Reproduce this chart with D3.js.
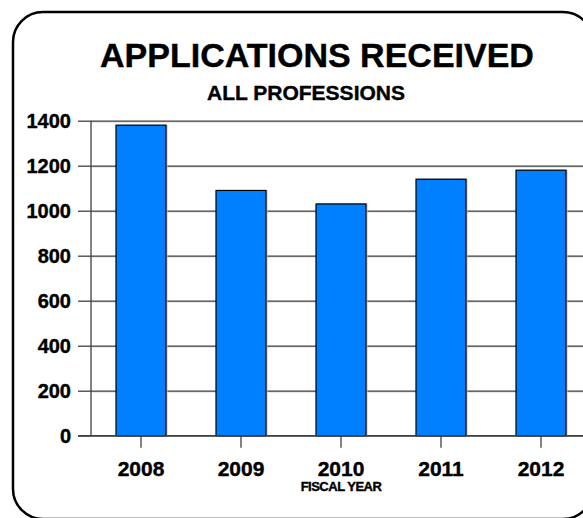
<!DOCTYPE html>
<html>
<head>
<meta charset="utf-8">
<script src="https://cdn.jsdelivr.net/npm/d3@7"></script>
<style>
  body { margin: 0; background: #fff; }
  svg text { font-family: "Liberation Sans", Arial, sans-serif; font-weight: bold; fill: #000; stroke: #000; stroke-width: 0.4px; }
</style>
</head>
<body>
<div id="chart"></div>
<script>
const years = ["2008", "2009", "2010", "2011", "2012"];
const applications = [1380, 1090, 1030, 1140, 1180];
const yTicks = [0, 200, 400, 600, 800, 1000, 1200, 1400];

const width = 583, height = 518;
const plotLeft = 91, plotRight = 591, plotTop = 120.7, plotBottom = 435.7;

const svg = d3.select("#chart").append("svg")
    .attr("width", width)
    .attr("height", height);

// rounded frame
svg.append("rect")
    .attr("x", 13).attr("y", 12)
    .attr("width", 580).attr("height", 507)
    .attr("rx", 30).attr("ry", 30)
    .attr("fill", "none")
    .attr("stroke", "#000")
    .attr("stroke-width", 2.5);

svg.append("text")
    .attr("x", 317).attr("y", 67)
    .attr("text-anchor", "middle")
    .style("font-size", "34px")
    .text("APPLICATIONS RECEIVED");

svg.append("text")
    .attr("x", 306).attr("y", 100)
    .attr("text-anchor", "middle")
    .style("font-size", "21px")
    .text("ALL PROFESSIONS");

const x = d3.scaleBand()
    .domain(years)
    .range([plotLeft, plotRight])
    .paddingInner(0.5)
    .paddingOuter(0.25);

const y = d3.scaleLinear()
    .domain([0, 1400])
    .range([plotBottom, plotTop]);

// gridline shadows
svg.append("g").selectAll("line")
    .data(yTicks.filter(d => d > 0))
    .join("line")
    .attr("x1", plotLeft).attr("x2", plotRight)
    .attr("y1", d => y(d) + 1.2).attr("y2", d => y(d) + 1.2)
    .attr("stroke", "#c8c8c8")
    .attr("stroke-width", 1);

// gridlines
const grid = svg.append("g")
    .attr("transform", `translate(${plotLeft},0)`)
    .call(d3.axisLeft(y).tickValues(yTicks).tickSize(-(plotRight - plotLeft)).tickFormat(""));
grid.select(".domain").remove();
grid.selectAll("line").attr("stroke", "#404040").attr("stroke-width", 1.3);

// y axis
const yAxis = svg.append("g")
    .attr("transform", `translate(${plotLeft},0)`)
    .call(d3.axisLeft(y).tickValues(yTicks).tickSize(13).tickPadding(7).tickFormat(d3.format("d")));
yAxis.select(".domain").remove();
yAxis.selectAll("line").attr("stroke", "#404040").attr("stroke-width", 1.3);
yAxis.selectAll("text")
    .style("font-size", "20px")
    .attr("dy", "0.36em");

svg.append("line")
    .attr("x1", plotLeft).attr("x2", plotLeft)
    .attr("y1", y(1400)).attr("y2", y(0))
    .attr("stroke", "#404040")
    .attr("stroke-width", 1.3);

// bar shadows
svg.append("g").selectAll("rect")
    .data(applications)
    .join("rect")
    .attr("x", (d, i) => x(years[i]) + 1.5)
    .attr("y", d => y(d) - 0.5)
    .attr("width", x.bandwidth())
    .attr("height", d => y(0) - y(d))
    .attr("fill", "#bdbdbd");

// bars
svg.append("g").selectAll("rect")
    .data(applications)
    .join("rect")
    .attr("x", (d, i) => x(years[i]))
    .attr("y", d => y(d))
    .attr("width", x.bandwidth())
    .attr("height", d => y(0) - y(d))
    .attr("fill", "#0080ff")
    .attr("stroke", "#000")
    .attr("stroke-width", 1.2);

// x axis
const xAxis = svg.append("g")
    .attr("transform", `translate(0,${plotBottom})`)
    .call(d3.axisBottom(x).tickSize(12));
xAxis.select(".domain").remove();
xAxis.selectAll("line").attr("stroke", "#404040").attr("stroke-width", 1.3);
xAxis.selectAll("text")
    .style("font-size", "21px")
    .attr("y", 40.5)
    .attr("dy", 0);

svg.append("line")
    .attr("x1", 78).attr("x2", plotRight)
    .attr("y1", y(0)).attr("y2", y(0))
    .attr("stroke", "#404040")
    .attr("stroke-width", 1.3);

svg.append("text")
    .attr("x", x("2010") + x.bandwidth() / 2)
    .attr("y", 491)
    .attr("text-anchor", "middle")
    .style("font-size", "13px")
    .style("letter-spacing", "-0.5px")
    .text("FISCAL YEAR");
</script>
</body>
</html>
